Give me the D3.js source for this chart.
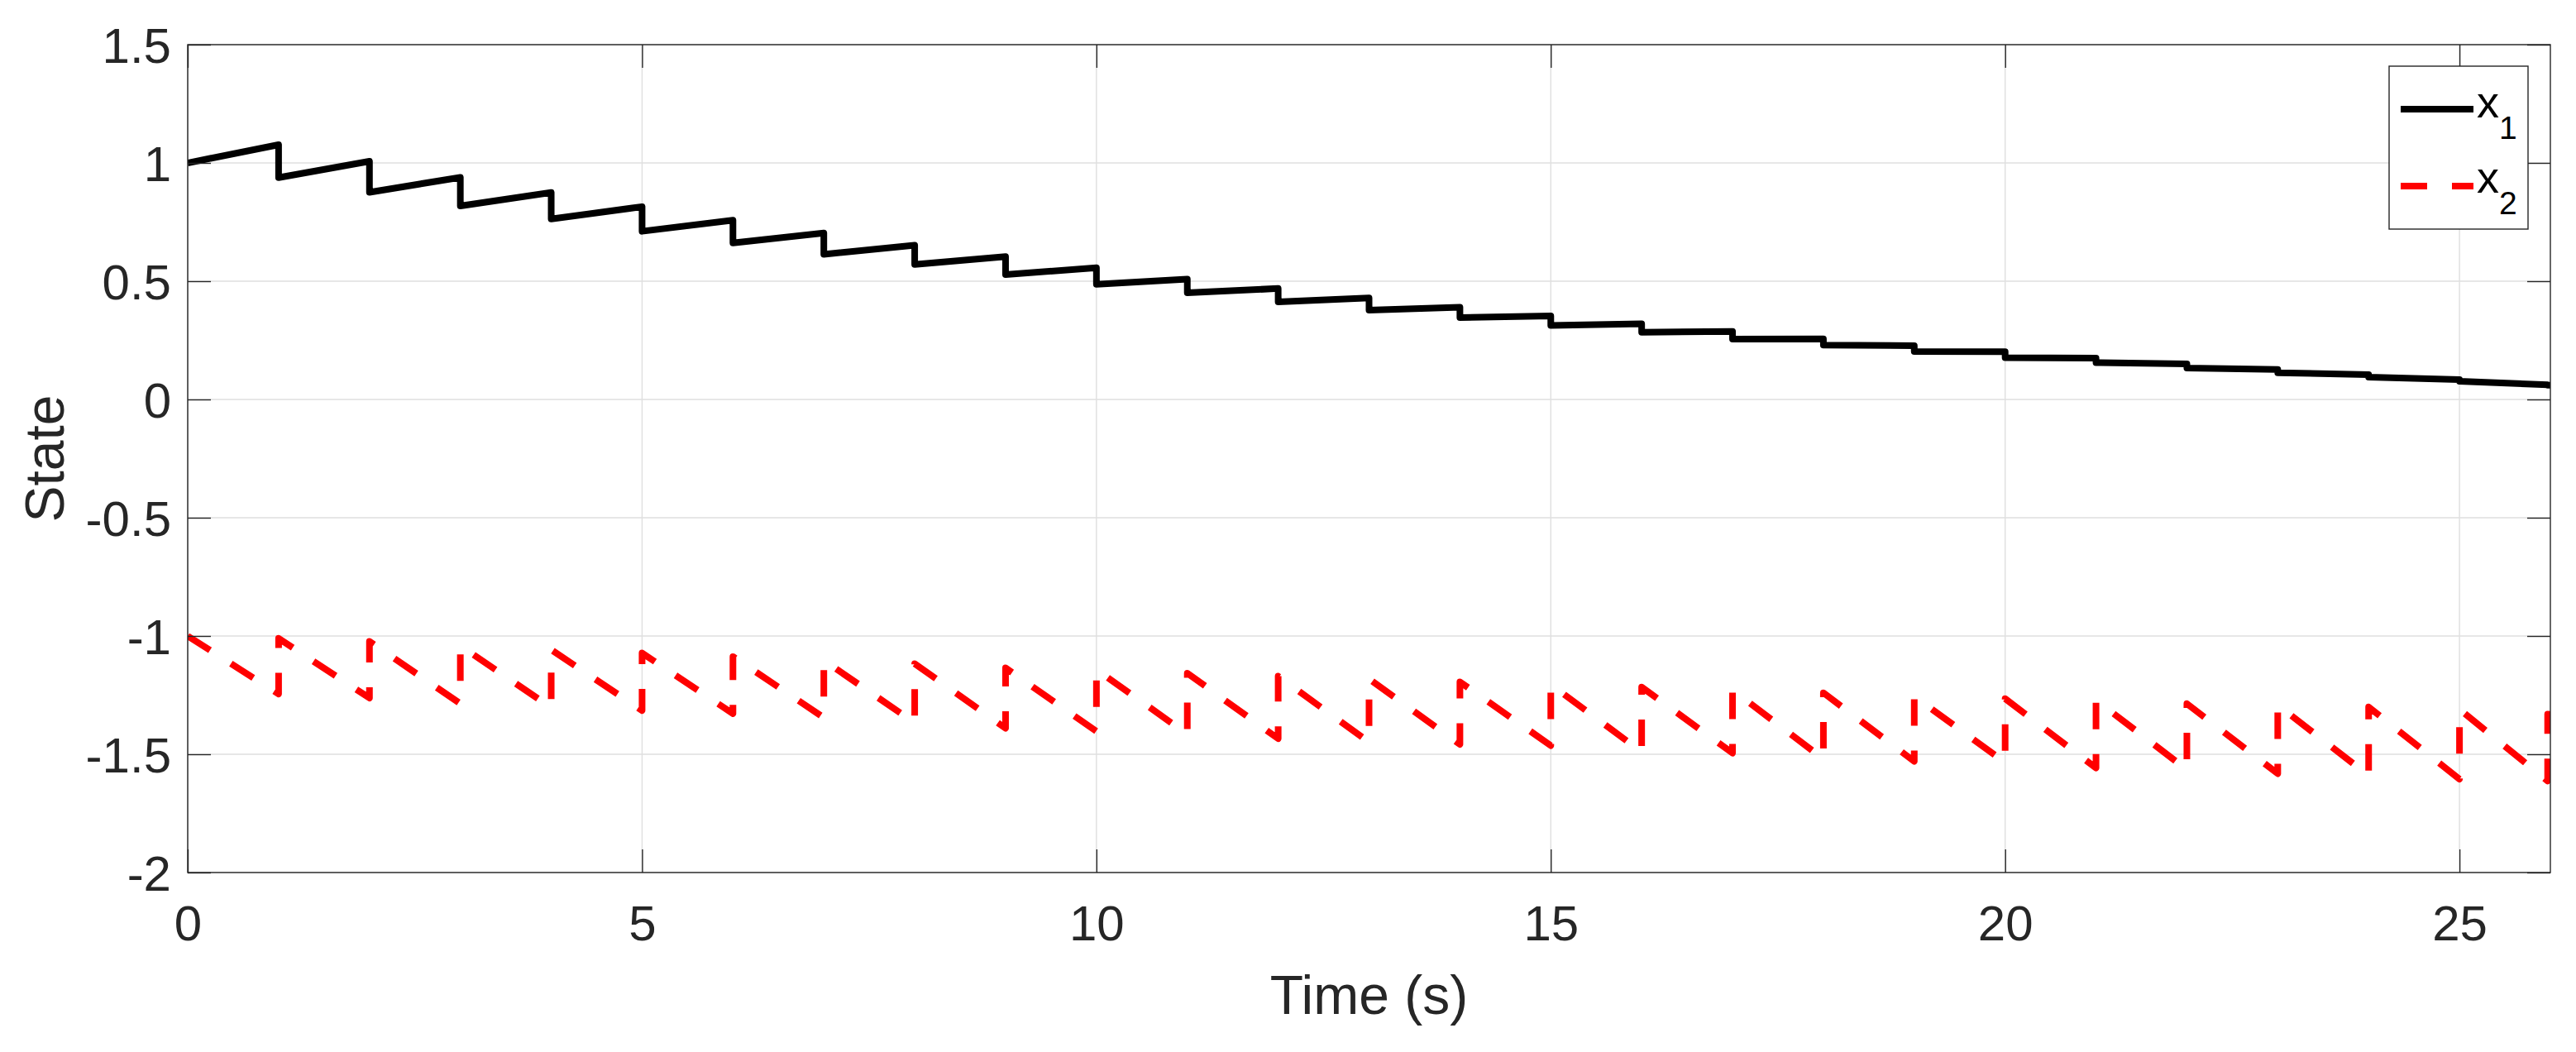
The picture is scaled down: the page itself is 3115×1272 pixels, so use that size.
<!DOCTYPE html>
<html>
<head>
<meta charset="utf-8">
<script src="https://cdn.jsdelivr.net/npm/d3@7"></script>
<style>
  html, body { margin: 0; padding: 0; background: #fff; }
  svg { display: block; }
  text { font-family: "Liberation Sans", Arial, Helvetica, sans-serif; fill: #262626; }
</style>
</head>
<body>
<script>
// ---- data ----
const jumpTimes = [1,2,3,4,5,6,7,8,9,10,11,12,13,14,15,16,17,18,19,20,21,22,23,24,25,25.97];
const tStart = 0, tEnd = 26;
const x1Start = 1.0, x1End = 0.060;
const x1Before = [1.077,1.007,0.939,0.875,0.815,0.758,0.704,0.652,0.604,0.557,0.509,0.469,0.429,0.390,0.353,0.320,0.288,0.256,0.227,0.202,0.175,0.150,0.127,0.105,0.084,0.062];
const x1After  = [0.938,0.876,0.818,0.763,0.711,0.662,0.614,0.571,0.528,0.487,0.451,0.413,0.378,0.346,0.313,0.284,0.255,0.230,0.203,0.177,0.156,0.133,0.113,0.094,0.077,0.060];
const x2Start = -1.0, x2End = -1.331;
const x2Before = [-1.245,-1.262,-1.286,-1.303,-1.315,-1.328,-1.345,-1.367,-1.390,-1.403,-1.415,-1.434,-1.449,-1.458,-1.463,-1.490,-1.495,-1.520,-1.530,-1.535,-1.558,-1.565,-1.582,-1.590,-1.605,-1.613];
const x2After  = [-1.010,-1.023,-1.041,-1.058,-1.072,-1.087,-1.103,-1.117,-1.135,-1.142,-1.157,-1.170,-1.181,-1.194,-1.205,-1.216,-1.228,-1.240,-1.255,-1.265,-1.271,-1.286,-1.292,-1.300,-1.310,-1.330];
const xTicks = [0,5,10,15,20,25];
const yTicks = [-2,-1.5,-1,-0.5,0,0.5,1,1.5];
const seriesNames = ["x", "x"];
const seriesSubs = ["1", "2"];
const xLabel = "Time (s)";
const yLabel = "State";

// ---- build series points ----
function buildSeries(start, before, after, end) {
  const pts = [[tStart, start]];
  jumpTimes.forEach((t, i) => { pts.push([t, before[i]]); pts.push([t, after[i]]); });
  pts.push([tEnd, end]);
  return pts;
}
const s1 = buildSeries(x1Start, x1Before, x1After, x1End);
const s2 = buildSeries(x2Start, x2Before, x2After, x2End);

// ---- layout ----
const W = 3115, H = 1272;
const L = 227, R = 3084, T = 54, B = 1055;
const x = d3.scaleLinear().domain([0, 26]).range([L, R]);
const y = d3.scaleLinear().domain([-2, 1.5]).range([B, T]);
const ink = "#262626";
const tickLen = 28;

const svg = d3.select("body").append("svg").attr("width", W).attr("height", H);

// grid
const grid = svg.append("g");
grid.selectAll(".gx").data(xTicks).join("line")
  .attr("x1", d => x(d)).attr("x2", d => x(d)).attr("y1", T).attr("y2", B)
  .attr("stroke", "#dfdfdf").attr("stroke-width", 1.4);
grid.selectAll(".gy").data(yTicks).join("line")
  .attr("x1", L).attr("x2", R).attr("y1", d => y(d)).attr("y2", d => y(d))
  .attr("stroke", "#dfdfdf").attr("stroke-width", 1.4);

// data
svg.append("clipPath").attr("id", "clip").append("rect")
  .attr("x", L).attr("y", T).attr("width", R - L).attr("height", B - T);
const line = d3.line().x(d => x(d[0])).y(d => y(d[1]));
const plot = svg.append("g").attr("clip-path", "url(#clip)");
plot.append("path").attr("d", line(s1)).attr("fill", "none")
  .attr("stroke", "#000").attr("stroke-width", 8).attr("stroke-linejoin", "round");
plot.append("path").attr("d", line(s2)).attr("fill", "none")
  .attr("stroke", "#ff0000").attr("stroke-width", 8).attr("stroke-linejoin", "round")
  .attr("stroke-dasharray", "32,30");

// axes
function styleAxis(g) {
  g.select(".domain").remove();
  g.selectAll(".tick line").attr("stroke", ink).attr("stroke-width", 1.4);
  g.selectAll(".tick text").attr("fill", ink).style("font-size", "60px")
    .style("font-family", "'Liberation Sans', Arial, Helvetica, sans-serif");
}
const fmt = d => String(d);
svg.append("g").attr("transform", `translate(0,${B})`)
  .call(d3.axisBottom(x).tickValues(xTicks).tickFormat(fmt).tickSize(-tickLen).tickPadding(39))
  .call(styleAxis);
svg.append("g").attr("transform", `translate(0,${T})`)
  .call(d3.axisTop(x).tickValues(xTicks).tickFormat("").tickSize(-tickLen))
  .call(styleAxis);
const yl = svg.append("g").attr("transform", `translate(${L},0)`)
  .call(d3.axisLeft(y).tickValues(yTicks).tickFormat(fmt).tickSize(-tickLen).tickPadding(20))
  .call(styleAxis);
yl.selectAll(".tick text").attr("dy", "0.36em");
svg.append("g").attr("transform", `translate(${R},0)`)
  .call(d3.axisRight(y).tickValues(yTicks).tickFormat("").tickSize(-tickLen))
  .call(styleAxis);

// box
svg.append("rect").attr("x", L).attr("y", T).attr("width", R - L).attr("height", B - T)
  .attr("fill", "none").attr("stroke", ink).attr("stroke-width", 1.4);

// axis labels
svg.append("text").attr("x", (L + R) / 2).attr("y", 1226).attr("text-anchor", "middle")
  .style("font-size", "66px").text(xLabel);
svg.append("text").attr("transform", `translate(77,${(T + B) / 2}) rotate(-90)`)
  .attr("text-anchor", "middle").style("font-size", "66px").text(yLabel);

// legend
const lg = svg.append("g");
lg.append("rect").attr("x", 2889).attr("y", 80).attr("width", 168).attr("height", 197)
  .attr("fill", "#fff").attr("stroke", ink).attr("stroke-width", 1.4);
const legendRows = [
  { y: 132, base: 142, stroke: "#000", dash: null },
  { y: 225, base: 233, stroke: "#ff0000", dash: "32,30" }
];
legendRows.forEach((r, i) => {
  lg.append("line").attr("x1", 2903).attr("x2", 2991).attr("y1", r.y).attr("y2", r.y)
    .attr("stroke", r.stroke).attr("stroke-width", 8)
    .attr("stroke-dasharray", r.dash);
  const t = lg.append("text").attr("x", 2995).attr("y", r.base).style("font-size", "54px").style("fill", "#000");
  t.append("tspan").text(seriesNames[i]);
  t.append("tspan").attr("dy", 26).style("font-size", "39px").text(seriesSubs[i]);
});
</script>
</body>
</html>
